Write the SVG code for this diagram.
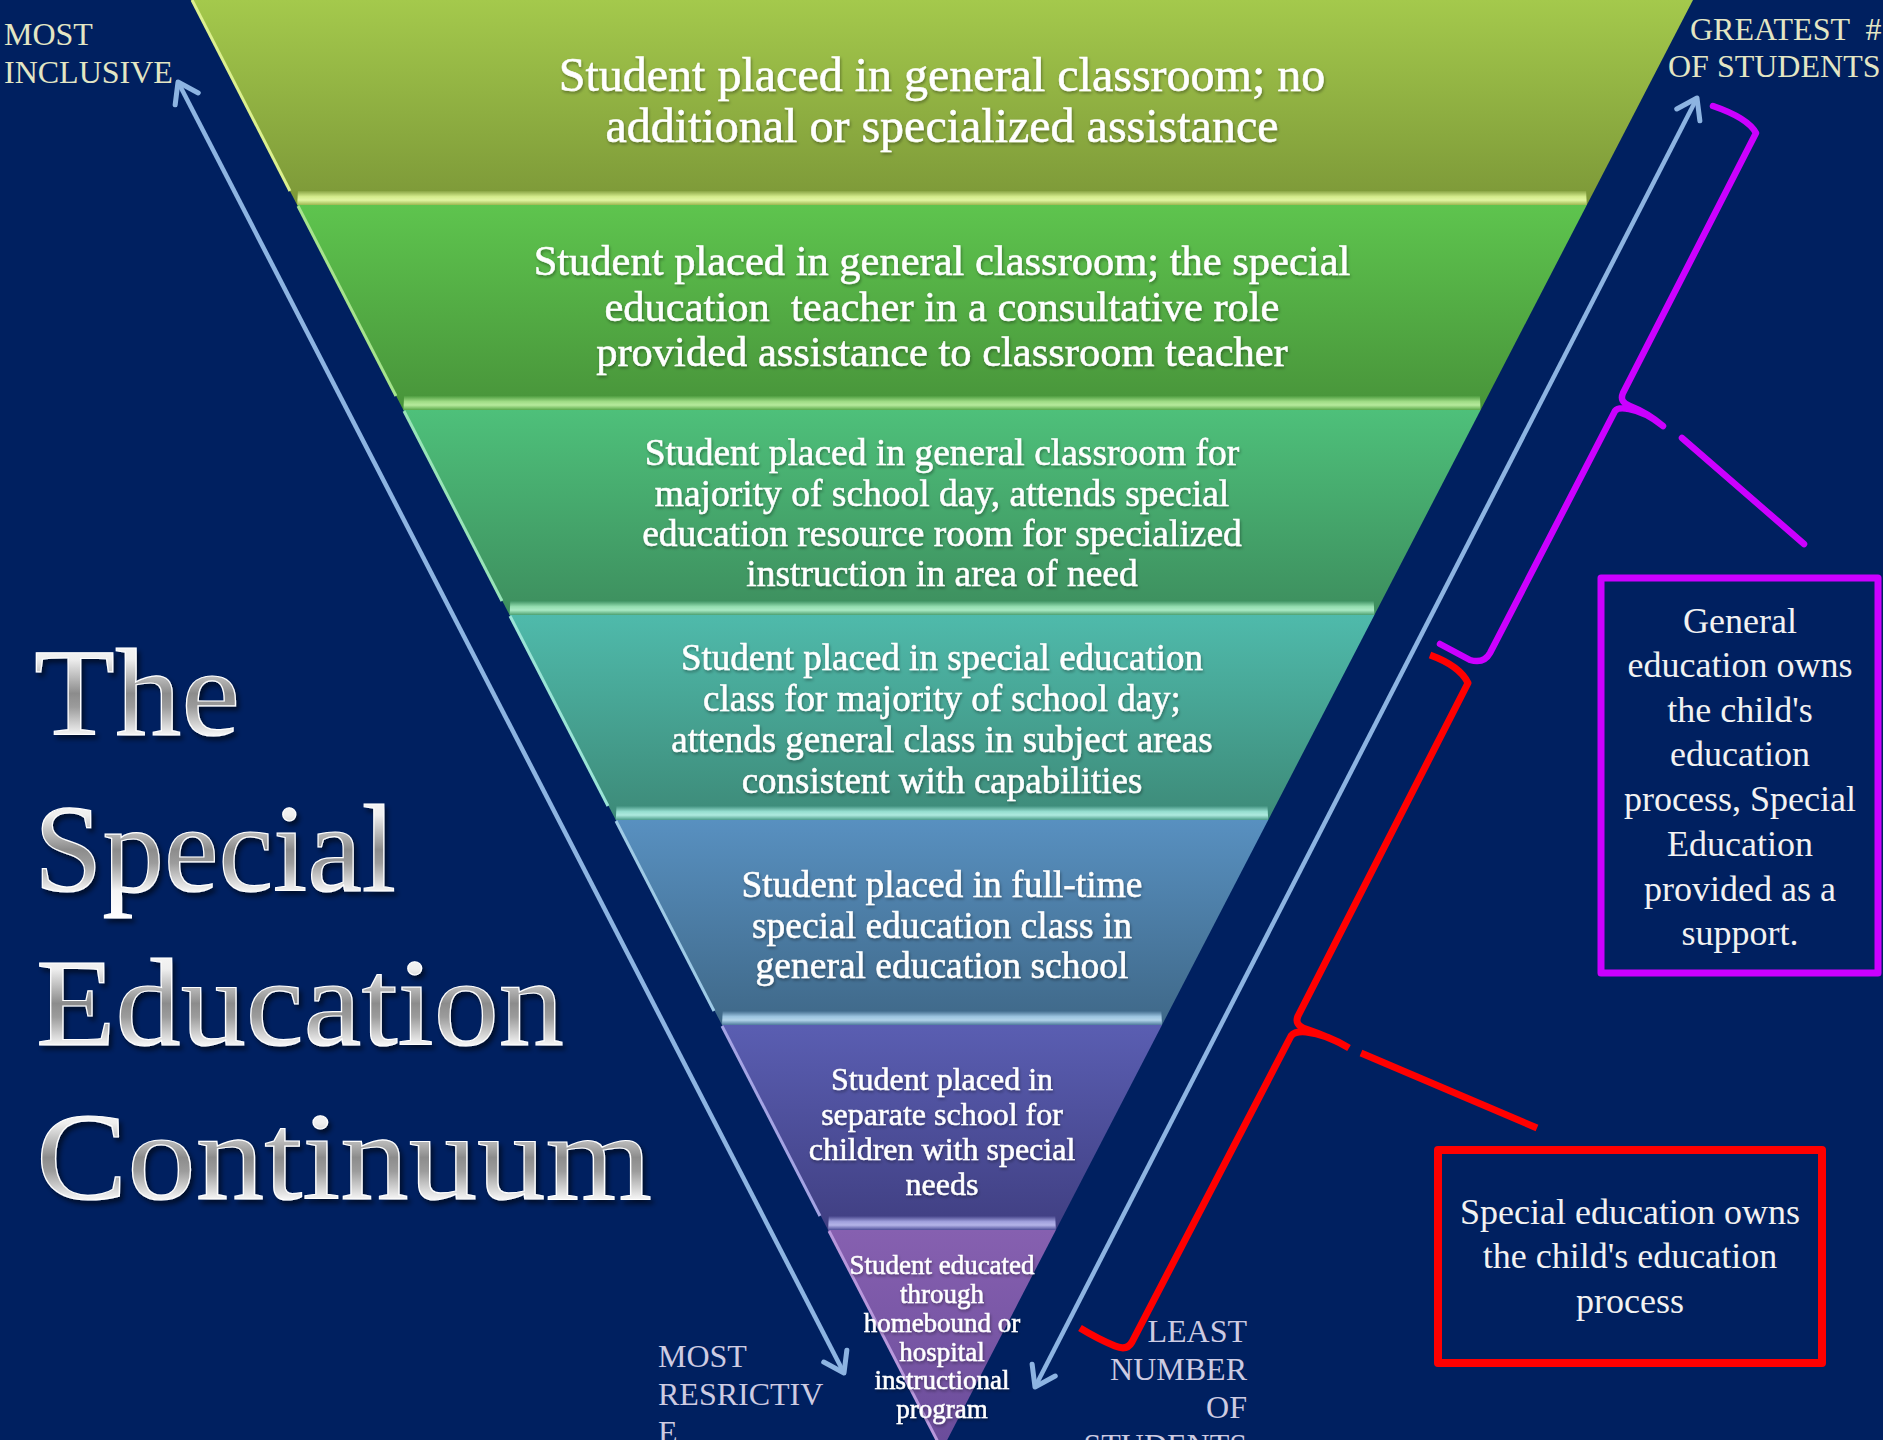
<svg xmlns="http://www.w3.org/2000/svg" width="1883" height="1440" viewBox="0 0 1883 1440">
<defs>
<style>
.band-text{font-family:"Liberation Serif","Times New Roman",serif;fill:#ffffff;stroke:#ffffff;stroke-width:0.5;text-anchor:middle;filter:url(#tshadow)}
.box-text{font-family:"Liberation Serif","Times New Roman",serif;fill:#f2f2f2;font-size:36px;text-anchor:middle}
.lbl-cream{font-family:"Liberation Serif","Times New Roman",serif;fill:#e3e6c4;font-size:32px}
.lbl-lav{font-family:"Liberation Serif","Times New Roman",serif;fill:#cdcbe2;font-size:32px}
.title{font-family:"Liberation Serif","Times New Roman",serif;font-size:124px;fill:url(#silver);stroke:#ffffff;stroke-width:1.2;filter:url(#titleShadow)}
.arrow{fill:none;stroke:#8db4e2;stroke-width:4.5;marker-start:url(#chev);marker-end:url(#chev)}
.brace-p{fill:none;stroke:#cc00ff;stroke-width:6.5;stroke-linecap:round;stroke-linejoin:round}
.brace-r{fill:none;stroke:#ff0000;stroke-width:7;stroke-linecap:butt;stroke-linejoin:round}
.hl{fill:none;stroke-width:3}
</style>
<marker id="chev" viewBox="-4 -4 32 32" refX="22" refY="12" markerWidth="32" markerHeight="32" markerUnits="userSpaceOnUse" orient="auto-start-reverse">
<path d="M3,-1 L22,12 L3,25" fill="none" stroke="#8db4e2" stroke-width="5" stroke-linecap="round" stroke-linejoin="round"/>
</marker>
<filter id="tshadow" x="-5%" y="-20%" width="110%" height="150%">
<feDropShadow dx="1" dy="2" stdDeviation="1.5" flood-color="#000" flood-opacity="0.35"/>
</filter>
<filter id="titleShadow" x="-5%" y="-10%" width="115%" height="130%">
<feDropShadow dx="3" dy="4" stdDeviation="2.5" flood-color="#000" flood-opacity="0.55"/>
</filter>
<linearGradient id="silver" x1="0" y1="0" x2="0" y2="1">
<stop offset="0" stop-color="#ffffff"/>
<stop offset="0.25" stop-color="#eeeeee"/>
<stop offset="0.5" stop-color="#8c8c8c"/>
<stop offset="0.6" stop-color="#9c9c9c"/>
<stop offset="0.8" stop-color="#f4f4f4"/>
<stop offset="1" stop-color="#ffffff"/>
</linearGradient>
<linearGradient id="g1" x1="0" y1="0" x2="0" y2="1"><stop offset="0" stop-color="#a4c94c"/><stop offset="1" stop-color="#7c9838"/></linearGradient>
<linearGradient id="g2" x1="0" y1="0" x2="0" y2="1"><stop offset="0" stop-color="#5ec44e"/><stop offset="1" stop-color="#48943a"/></linearGradient>
<linearGradient id="g3" x1="0" y1="0" x2="0" y2="1"><stop offset="0" stop-color="#4ec07a"/><stop offset="1" stop-color="#3d8e5e"/></linearGradient>
<linearGradient id="g4" x1="0" y1="0" x2="0" y2="1"><stop offset="0" stop-color="#4fbaab"/><stop offset="1" stop-color="#3d8a78"/></linearGradient>
<linearGradient id="g5" x1="0" y1="0" x2="0" y2="1"><stop offset="0" stop-color="#5890c0"/><stop offset="1" stop-color="#3f6888"/></linearGradient>
<linearGradient id="g6" x1="0" y1="0" x2="0" y2="1"><stop offset="0" stop-color="#5a5eb2"/><stop offset="1" stop-color="#403f82"/></linearGradient>
<linearGradient id="g7" x1="0" y1="0" x2="0" y2="1"><stop offset="0" stop-color="#8660b0"/><stop offset="1" stop-color="#6a4c9a"/></linearGradient>
<linearGradient id="b1" x1="0" y1="0" x2="0" y2="1"><stop offset="0" stop-color="#8aa645"/><stop offset="0.4" stop-color="#d4ec8c"/><stop offset="0.65" stop-color="#e2f6a2"/><stop offset="1" stop-color="#9cb850"/></linearGradient>
<linearGradient id="b2" x1="0" y1="0" x2="0" y2="1"><stop offset="0" stop-color="#4e9e40"/><stop offset="0.4" stop-color="#a0dc86"/><stop offset="0.65" stop-color="#b6ea9c"/><stop offset="1" stop-color="#5aa84a"/></linearGradient>
<linearGradient id="b3" x1="0" y1="0" x2="0" y2="1"><stop offset="0" stop-color="#409464"/><stop offset="0.4" stop-color="#94deb0"/><stop offset="0.65" stop-color="#aaeac4"/><stop offset="1" stop-color="#4ca070"/></linearGradient>
<linearGradient id="b4" x1="0" y1="0" x2="0" y2="1"><stop offset="0" stop-color="#40907e"/><stop offset="0.4" stop-color="#96ded0"/><stop offset="0.65" stop-color="#aeeadf"/><stop offset="1" stop-color="#4c9c8a"/></linearGradient>
<linearGradient id="b5" x1="0" y1="0" x2="0" y2="1"><stop offset="0" stop-color="#426c8e"/><stop offset="0.4" stop-color="#9cc4e0"/><stop offset="0.65" stop-color="#b2d4ea"/><stop offset="1" stop-color="#4e7a9c"/></linearGradient>
<linearGradient id="b6" x1="0" y1="0" x2="0" y2="1"><stop offset="0" stop-color="#434288"/><stop offset="0.4" stop-color="#a0a0dc"/><stop offset="0.65" stop-color="#b4b4e8"/><stop offset="1" stop-color="#4e4e98"/></linearGradient>
</defs>

<rect x="0" y="0" width="1883" height="1440" fill="#002060"/>

<g id="title">
<text class="title" x="34" y="735" textLength="206" lengthAdjust="spacingAndGlyphs">The</text>
<text class="title" x="34" y="891" textLength="362" lengthAdjust="spacingAndGlyphs">Special</text>
<text class="title" x="36" y="1045" textLength="528" lengthAdjust="spacingAndGlyphs">Education</text>
<text class="title" x="36" y="1199" textLength="616" lengthAdjust="spacingAndGlyphs">Continuum</text>
</g>

<g id="band1">
<polygon points="191,0 1693,0 1586.8,205 297.2,205" fill="url(#g1)"/>
<polygon points="297.9,191 1586.1,191 1586.8,205 297.2,205" fill="url(#b1)"/>
<line class="hl" x1="192" y1="0" x2="290" y2="191" stroke="#dcf08e"/>
<text class="band-text" font-size="48" x="942" y="91">Student placed in general classroom; no</text>
<text class="band-text" font-size="48" x="942" y="142">additional or specialized assistance</text>
</g>

<g id="band2">
<polygon points="297.2,205 1586.8,205 1480.6,410 403.4,410" fill="url(#g2)"/>
<polygon points="404.1,396 1479.9,396 1480.6,410 403.4,410" fill="url(#b2)"/>
<line class="hl" x1="298" y1="206" x2="396" y2="396" stroke="#a6e48c"/>
<text class="band-text" font-size="42.5" x="942" y="275">Student placed in general classroom; the special</text>
<text class="band-text" font-size="42.5" x="942" y="321" xml:space="preserve">education  teacher in a consultative role</text>
<text class="band-text" font-size="42.5" x="942" y="366">provided assistance to classroom teacher</text>
</g>

<g id="band3">
<polygon points="403.4,410 1480.6,410 1374.4,615 509.6,615" fill="url(#g3)"/>
<polygon points="510.3,601 1373.7,601 1374.4,615 509.6,615" fill="url(#b3)"/>
<line class="hl" x1="404" y1="411" x2="502" y2="601" stroke="#98e4b8"/>
<text class="band-text" font-size="37.5" x="942" y="465">Student placed in general classroom for</text>
<text class="band-text" font-size="37.5" x="942" y="506">majority of school day, attends special</text>
<text class="band-text" font-size="37.5" x="942" y="546">education resource room for specialized</text>
<text class="band-text" font-size="37.5" x="942" y="586">instruction in area of need</text>
</g>

<g id="band4">
<polygon points="509.6,615 1374.4,615 1268.2,820 615.8,820" fill="url(#g4)"/>
<polygon points="616.5,806 1267.5,806 1268.2,820 615.8,820" fill="url(#b4)"/>
<line class="hl" x1="510" y1="616" x2="608" y2="806" stroke="#9ae4d6"/>
<text class="band-text" font-size="37" x="942" y="670">Student placed in special education</text>
<text class="band-text" font-size="37" x="942" y="711">class for majority of school day;</text>
<text class="band-text" font-size="37" x="942" y="752">attends general class in subject areas</text>
<text class="band-text" font-size="37" x="942" y="793">consistent with capabilities</text>
</g>

<g id="band5">
<polygon points="615.8,820 1268.2,820 1162,1025 722,1025" fill="url(#g5)"/>
<polygon points="722.7,1011 1161.3,1011 1162,1025 722,1025" fill="url(#b5)"/>
<line class="hl" x1="616" y1="821" x2="714" y2="1011" stroke="#9ecae6"/>
<text class="band-text" font-size="37.5" x="942" y="897">Student placed in full-time</text>
<text class="band-text" font-size="37.5" x="942" y="938">special education class in</text>
<text class="band-text" font-size="37.5" x="942" y="978">general education school</text>
</g>

<g id="band6">
<polygon points="722,1025 1162,1025 1055.9,1230 828.1,1230" fill="url(#g6)"/>
<polygon points="828.8,1216 1055.2,1216 1055.9,1230 828.1,1230" fill="url(#b6)"/>
<line class="hl" x1="722" y1="1026" x2="820" y2="1216" stroke="#a4a4e4"/>
<text class="band-text" font-size="32" x="942" y="1090">Student placed in</text>
<text class="band-text" font-size="32" x="942" y="1125">separate school for</text>
<text class="band-text" font-size="32" x="942" y="1160">children with special</text>
<text class="band-text" font-size="32" x="942" y="1195">needs</text>
</g>

<g id="band7">
<polygon points="828.1,1230 1055.9,1230 942,1450" fill="url(#g7)"/>
<line class="hl" x1="829" y1="1231" x2="940" y2="1446" stroke="#b898dc"/>
<text class="band-text" font-size="27" x="942" y="1274">Student educated</text>
<text class="band-text" font-size="27" x="942" y="1303">through</text>
<text class="band-text" font-size="27" x="942" y="1332">homebound or</text>
<text class="band-text" font-size="27" x="942" y="1361">hospital</text>
<text class="band-text" font-size="27" x="942" y="1389">instructional</text>
<text class="band-text" font-size="27" x="942" y="1418">program</text>
</g>

<g id="label-most-inclusive">
<text class="lbl-cream" x="4" y="45">MOST</text>
<text class="lbl-cream" x="4" y="83">INCLUSIVE</text>
</g>

<g id="label-greatest">
<text class="lbl-cream" x="1690" y="40" xml:space="preserve">GREATEST  #</text>
<text class="lbl-cream" x="1668" y="77">OF STUDENTS</text>
</g>

<g id="label-most-restrictive">
<text class="lbl-lav" x="658" y="1367">MOST</text>
<text class="lbl-lav" x="658" y="1405">RESRICTIV</text>
<text class="lbl-lav" x="658" y="1443">E</text>
</g>

<g id="label-least">
<text class="lbl-lav" x="1247" y="1342" text-anchor="end">LEAST</text>
<text class="lbl-lav" x="1247" y="1380" text-anchor="end">NUMBER</text>
<text class="lbl-lav" x="1247" y="1418" text-anchor="end">OF</text>
<text class="lbl-lav" x="1247" y="1456" text-anchor="end">STUDENTS</text>
</g>

<g id="box-general">
<rect x="1601" y="578" width="277" height="395" fill="none" stroke="#cc00ff" stroke-width="7" stroke-linejoin="round"/>
<text class="box-text" x="1740" y="633">General</text>
<text class="box-text" x="1740" y="677">education owns</text>
<text class="box-text" x="1740" y="722">the child's</text>
<text class="box-text" x="1740" y="766">education</text>
<text class="box-text" x="1740" y="811">process, Special</text>
<text class="box-text" x="1740" y="856">Education</text>
<text class="box-text" x="1740" y="901">provided as a</text>
<text class="box-text" x="1740" y="945">support.</text>
</g>

<g id="box-special">
<rect x="1438" y="1150" width="384" height="213" fill="none" stroke="#ff0000" stroke-width="8" stroke-linejoin="round"/>
<text class="box-text" x="1630" y="1224">Special education owns</text>
<text class="box-text" x="1630" y="1268">the child's education</text>
<text class="box-text" x="1630" y="1313">process</text>
</g>

<g id="connectors">
<path class="arrow" d="M178,82 L844,1373"/>
<path class="arrow" d="M1035,1387 L1697,98"/>
<path class="brace-p" d="M1713,106 Q1748,118 1756,133 L1623,393 Q1619,402 1630,406 Q1648,413 1663,426 M1663,426 Q1646,412 1629,409 Q1618,407 1615,411 L1490,653 Q1484,664 1470,660 Q1455,652 1440,644"/>
<path class="brace-p" d="M1682,438 L1804,544"/>
<path class="brace-r" d="M1430,655 Q1460,666 1468,683 L1298,1016 Q1294,1025 1306,1029 Q1330,1037 1349,1048 M1349,1048 Q1326,1034 1306,1032 Q1295,1031 1291,1036 L1132,1342 Q1127,1351 1115,1346 Q1098,1339 1080,1328"/>
<path class="brace-r" d="M1361,1053 L1537,1128"/>
</g>
</svg>
